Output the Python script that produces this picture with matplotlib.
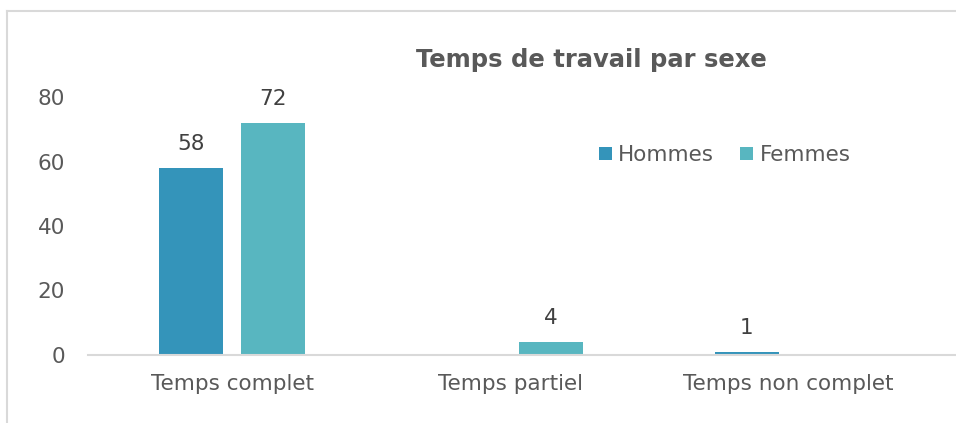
import matplotlib
matplotlib.use("Agg")
import matplotlib.pyplot as plt
from matplotlib.lines import Line2D
import numpy as np

categories = ["Temps complet", "Temps partiel", "Temps non complet"]
hommes = [58, 0, 1]
femmes = [72, 4, 0]
y_ticks = [0, 20, 40, 60, 80]

C_H = "#3494BA"
C_F = "#58B6C0"
TXT = "#595959"
GRID = "#D9D9D9"

plt.rcParams["font.family"] = ["DejaVu Sans"]

fig = plt.figure(figsize=(9.56, 4.23), dpi=100)
ax = fig.add_axes([88 / 956, 1 - 355 / 423, 1 - 88 / 956, (355 - 97) / 423])

x = np.arange(len(categories))
off = 0.1476
w = 0.23
bh = ax.bar(x - off, hommes, w, color=C_H, label="Hommes")
bf = ax.bar(x + off, femmes, w, color=C_F, label="Femmes")

# value labels, only for non-zero bars
for bars, vals in ((bh, hommes), (bf, femmes)):
    for b, v in zip(bars, vals):
        if v:
            ax.annotate(str(v), (b.get_x() + b.get_width() / 2, v),
                        xytext=(0, 10), textcoords="offset points",
                        ha="center", va="bottom", fontsize=15.5,
                        color="#404040", clip_on=False)

ax.set_xlim(-0.52, 2.605)
ax.set_ylim(0, 80)
ax.set_yticks(y_ticks)
ax.set_xticks(x)
ax.set_xticklabels(categories)
ax.tick_params(axis="both", length=0, labelsize=15.5, colors=TXT)
ax.tick_params(axis="y", pad=16.5)
ax.tick_params(axis="x", pad=14)

for s in ("top", "right", "left"):
    ax.spines[s].set_visible(False)
ax.spines["bottom"].set_color(GRID)
ax.spines["bottom"].set_linewidth(1.5)

fig.text(0.619, 1 - 60 / 423, "Temps de travail par sexe", ha="center",
         va="center", fontsize=17.5, fontweight="bold", color=TXT)

ax.legend(loc="center", bbox_to_anchor=(0.758, 1 - 155 / 423),
          bbox_transform=fig.transFigure, ncol=2, frameon=False,
          fontsize=15.5, handlelength=0.6, handleheight=0.6,
          handletextpad=0.3, columnspacing=1.2, labelcolor=TXT)

# border of the chart area (cropped on right and bottom)
fig.add_artist(Line2D([7 / 956, 7 / 956], [0, 1 - 11 / 423],
                      color=GRID, lw=1.5, transform=fig.transFigure))
fig.add_artist(Line2D([7 / 956, 1], [1 - 11 / 423, 1 - 11 / 423],
                      color=GRID, lw=1.5, transform=fig.transFigure))

fig.savefig("out.png", dpi=100)
